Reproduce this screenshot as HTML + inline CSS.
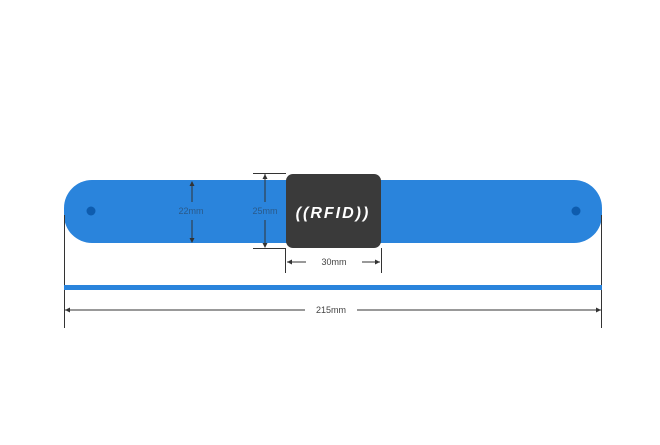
<!DOCTYPE html>
<html><head><style>body{margin:0;background:#fff;}</style></head><body>
<svg width="660" height="440" viewBox="0 0 660 440" xmlns="http://www.w3.org/2000/svg" font-family="Liberation Sans, sans-serif">
<rect x="64" y="180" width="538" height="63" rx="28" fill="#2a84dc"/>
<circle cx="91" cy="211" r="4.5" fill="#0e5cae"/>
<circle cx="576" cy="211" r="4.5" fill="#0e5cae"/>
<rect x="286" y="174" width="95" height="74" rx="7" fill="#3a3a3a"/>
<text x="333" y="218" font-size="16" font-weight="bold" font-style="italic" fill="#fff" text-anchor="middle" letter-spacing="2">((RFID))</text>
<g stroke="#333" stroke-width="1" fill="none">
<line x1="192" y1="182" x2="192" y2="202"/><line x1="192" y1="220" x2="192" y2="241"/>
<line x1="265" y1="174" x2="265" y2="202"/><line x1="265" y1="220" x2="265" y2="247"/>
<line x1="253" y1="173.5" x2="286" y2="173.5"/><line x1="253" y1="248.5" x2="286" y2="248.5"/>
<line x1="285.5" y1="248" x2="285.5" y2="273"/><line x1="381.5" y1="248" x2="381.5" y2="273"/>
<line x1="287" y1="262" x2="306" y2="262"/><line x1="362" y1="262" x2="380" y2="262"/>
<line x1="64.5" y1="215" x2="64.5" y2="328"/><line x1="601.5" y1="215" x2="601.5" y2="328"/>
<line x1="65" y1="310" x2="305" y2="310"/><line x1="357" y1="310" x2="601" y2="310"/>
</g>
<g fill="#333">
<path d="M192 181l-2.5 5h5z"/><path d="M192 243l-2.5-5h5z"/>
<path d="M265 174l-2.5 5h5z"/><path d="M265 248l-2.5-5h5z"/>
<path d="M287 262l5-2.5v5z"/><path d="M380 262l-5-2.5v5z"/>
<path d="M65 310l5-2.5v5z"/><path d="M601 310l-5-2.5v5z"/>
</g>
<rect x="64" y="285" width="538" height="5" fill="#2a84dc"/>
<g font-size="9" fill="#444" text-anchor="middle">
<text x="191" y="214" fill="#2a5a8a">22mm</text>
<text x="265" y="214" fill="#2a5a8a">25mm</text>
<text x="334" y="265">30mm</text>
<text x="331" y="313">215mm</text>
</g>
</svg>
</body></html>
